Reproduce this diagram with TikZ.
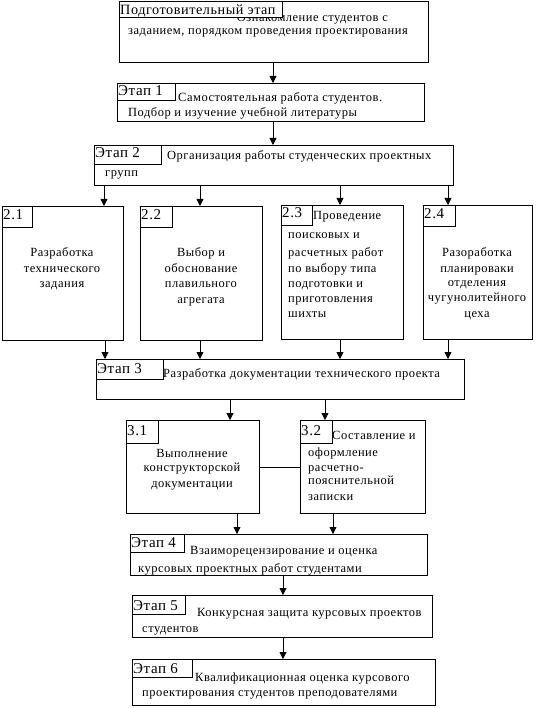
\documentclass[tikz,border=0pt]{standalone}
\usepackage{fontspec}
\setmainfont{Liberation Serif}[LetterSpace=4]
\usetikzlibrary{arrows.meta}
\tikzset{
  box/.style={draw, line width=0.8pt, inner sep=0pt, outer sep=0pt, anchor=north west},
  lbl/.style={draw, fill=white, line width=0.8pt, inner sep=0pt, outer sep=0pt, anchor=north west},
  lbltxt/.style={inner sep=0pt, anchor=base west, font=\fontsize{15}{17}\selectfont},
  txt/.style={inner sep=0pt, anchor=base west, font=\fontsize{12.5}{15}\selectfont},
  ctxt/.style={inner sep=0pt, anchor=base, font=\fontsize{12.5}{15}\selectfont},
  rtxt/.style={inner sep=0pt, anchor=base east, font=\fontsize{12.5}{15}\selectfont},
  arr/.style={line width=0.8pt, -{Triangle[width=7pt,length=7pt]}},
  ln/.style={line width=0.8pt}
}
\newcommand{\bx}[5]{\node[box, minimum width=#4-#2, minimum height=#5-#3] (#1) at (#2,#3) {};}
\newcommand{\lb}[5]{\node[lbl, minimum width=#4-#2, minimum height=#5-#3] (#1) at (#2,#3) {};}
\begin{document}
\begin{tikzpicture}[x=1pt,y=-1pt]
\useasboundingbox (0,0) rectangle (546,708);
\fill[white] (0,0) rectangle (546,708);
% boxes
\bx{top}{119}{1}{428}{62}
\bx{e1}{117}{83}{424}{121}
\bx{e2}{94}{145}{453}{185}
\bx{b21}{2}{206}{123}{340}
\bx{b22}{140}{206}{262}{340}
\bx{b23}{281}{205}{403}{339}
\bx{b24}{423}{205}{532}{339}
\bx{e3}{96}{359}{464}{399}
\bx{b31}{126}{420}{259}{513}
\bx{b32}{300}{420}{425}{513}
\bx{e4}{130}{534}{427}{575}
\bx{e5}{132}{595}{432}{637}
\bx{e6}{132}{659}{435}{705}
% texts
\node[rtxt] (topT1) at (388,22) {Ознакомление студентов с};
\node[ctxt] (topT2) at (268,35) {заданием, порядком проведения проектирования};
\node[txt] (e1T1) at (178,102) {Самостоятельная работа студентов.};
\node[txt] (e1T2) at (128,117) {Подбор и изучение учебной литературы};
\node[txt] (e2T1) at (167,160) {Организация работы студенческих проектных};
\node[txt] (e2T2) at (105,177) {групп};
\node[ctxt] (b21a) at (62,257) {Разработка};
\node[ctxt] (b21b) at (62,272) {технического};
\node[ctxt] (b21c) at (62,287) {задания};
\node[ctxt] (b22a) at (201,257) {Выбор и};
\node[ctxt] (b22b) at (201,272) {обоснование};
\node[ctxt] (b22c) at (201,287) {плавильного};
\node[ctxt] (b22d) at (201,303) {агрегата};
\node[txt] (b23a) at (313,220) {Проведение};
\node[txt] (b23b) at (288,239) {поисковых и};
\node[txt] (b23c) at (288,256) {расчетных работ};
\node[txt] (b23d) at (288,272) {по выбору типа};
\node[txt] (b23e) at (288,287) {подготовки и};
\node[txt] (b23f) at (288,302) {приготовления};
\node[txt] (b23g) at (288,317) {шихты};
\node[ctxt] (b24a) at (477,256) {Разоработка};
\node[ctxt] (b24b) at (477,272) {планироваки};
\node[ctxt] (b24c) at (477,286) {отделения};
\node[ctxt] (b24d) at (477,301) {чугунолитейного};
\node[ctxt] (b24e) at (477,317) {цеха};
\node[txt] (e3T) at (163,377) {Разработка документации технического проекта};
\node[ctxt] (b31a) at (192,457) {Выполнение};
\node[ctxt] (b31b) at (192,471) {конструкторской};
\node[ctxt] (b31c) at (192,487) {документации};
\node[txt] (b32a) at (332,439) {Составление и};
\node[txt] (b32b) at (308,456) {оформление};
\node[txt] (b32c) at (308,471) {расчетно-};
\node[txt] (b32d) at (308,484) {пояснительной};
\node[txt] (b32e) at (308,500) {записки};
\node[txt] (e4T1) at (190,554) {Взаиморецензирование и оценка};
\node[txt] (e4T2) at (138,572) {курсовых проектных работ студентами};
\node[txt] (e5T1) at (197,616) {Конкурсная защита курсовых проектов};
\node[txt] (e5T2) at (142,632) {студентов};
\node[txt] (e6T1) at (195,681) {Квалификационная оценка курсового};
\node[txt] (e6T2) at (142,696) {проектирования студентов преподователями};
% labels
\lb{topL}{119}{1}{282}{17}
\lb{e1L}{117}{83}{175}{100}
\lb{e2L}{94}{145}{161}{164}
\lb{b21L}{2}{206}{32}{227}
\lb{b22L}{140}{206}{172}{227}
\lb{b23L}{281}{205}{312}{225}
\lb{b24L}{423}{205}{455}{226}
\lb{e3L}{96}{359}{163}{379}
\lb{b31L}{126}{420}{158}{443}
\lb{b32L}{300}{420}{332}{443}
\lb{e4L}{130}{534}{184}{552}
\lb{e5L}{132}{595}{185}{614}
\lb{e6L}{132}{659}{192}{677}
\node[lbltxt, font=\fontsize{14.2}{16}\selectfont] (topLT) at (120,14.5) {Подготовительный этап};
\node[lbltxt] (e1LT) at (118,95.5) {Этап 1};
\node[lbltxt] (e2LT) at (95,158) {Этап 2};
\node[lbltxt] (b21LT) at (3,220) {2.1};
\node[lbltxt] (b22LT) at (141,220) {2.2};
\node[lbltxt] (b23LT) at (282,218) {2.3};
\node[lbltxt] (b24LT) at (424,219) {2.4};
\node[lbltxt] (e3LT) at (97,373) {Этап 3};
\node[lbltxt] (b31LT) at (127,435) {3.1};
\node[lbltxt] (b32LT) at (301,435) {3.2};
\node[lbltxt] (e4LT) at (131,547.5) {Этап 4};
\node[lbltxt] (e5LT) at (133,610.5) {Этап 5};
\node[lbltxt] (e6LT) at (133,673.5) {Этап 6};
% connectors
\draw[arr] (top.south -| 273,0) -- (e1.north -| 273,0);
\draw[arr] (e1.south -| 273,0) -- (e2.north -| 273,0);
\draw[arr] (e2.south -| 104,0) -- (b21.north -| 104,0);
\draw[arr] (e2.south -| 200,0) -- (b22.north -| 200,0);
\draw[arr] (e2.south -| 340,0) -- (b23.north -| 340,0);
\draw[arr] (e2.south -| 448,0) -- (b24.north -| 448,0);
\draw[arr] (b21.south -| 105,0) -- (e3.north -| 105,0);
\draw[arr] (b22.south -| 200,0) -- (e3.north -| 200,0);
\draw[arr] (b23.south -| 340,0) -- (e3.north -| 340,0);
\draw[arr] (b24.south -| 448,0) -- (e3.north -| 448,0);
\draw[arr] (e3.south -| 230,0) -- (b31.north -| 230,0);
\draw[arr] (e3.south -| 325,0) -- (b32.north -| 325,0);
\draw[ln] (b31.east |- 0,467) -- (b32.west |- 0,467);
\draw[arr] (b31.south -| 237,0) -- (e4.north -| 237,0);
\draw[arr] (b32.south -| 333,0) -- (e4.north -| 333,0);
\draw[arr] (e4.south -| 283,0) -- (e5.north -| 283,0);
\draw[arr] (e5.south -| 283,0) -- (e6.north -| 283,0);
\end{tikzpicture}
\end{document}
